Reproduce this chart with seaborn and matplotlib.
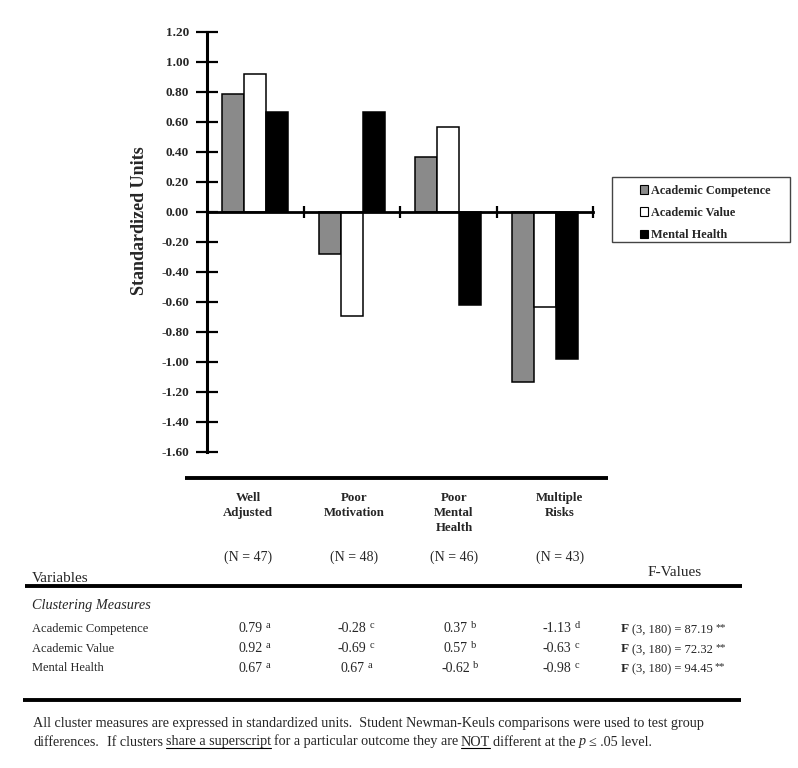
import numpy as np
import pandas as pd
import matplotlib
matplotlib.use("Agg")
import matplotlib.pyplot as plt
from matplotlib.patches import Patch, Rectangle
from matplotlib.lines import Line2D
import seaborn as sns

# ---------------- data ----------------
clusters = ["Well Adjusted", "Poor Motivation", "Poor Mental Health", "Multiple Risks"]
header_lines = [["Well", "Adjusted"], ["Poor", "Motivation"], ["Poor", "Mental", "Health"], ["Multiple", "Risks"]]
n_labels = ["(N = 47)", "(N = 48)", "(N = 46)", "(N = 43)"]
measures = ["Academic Competence", "Academic Value", "Mental Health"]
acad_competence = [0.79, -0.28, 0.37, -1.13]
acad_value = [0.92, -0.69, 0.57, -0.63]
mental_health = [0.67, 0.67, -0.62, -0.98]
sup_competence = ["a", "c", "b", "d"]
sup_value = ["a", "c", "b", "c"]
sup_mental = ["a", "a", "b", "c"]
f_values = ["87.19", "72.32", "94.45"]
y_ticks = [1.2, 1.0, 0.8, 0.6, 0.4, 0.2, 0.0, -0.2, -0.4, -0.6, -0.8, -1.0, -1.2, -1.4, -1.6]

W, H = 798, 768
SERIF = ["Liberation Serif", "DejaVu Serif"]

sns.set_theme(style="white")
plt.rcParams["font.family"] = SERIF
plt.rcParams["axes.unicode_minus"] = False

df = pd.DataFrame({
    "cluster": np.repeat(clusters, 3),
    "measure": measures * 4,
    "value": np.ravel(np.column_stack([acad_competence, acad_value, mental_health])),
})

fig = plt.figure(figsize=(W / 100, H / 100), dpi=100)
fig.patch.set_facecolor("white")

def fx(px):
    return px / W

def fy(py):
    return 1 - py / H

ax = fig.add_axes([fx(207), fy(452), (593 - 207) / W, 420 / H])
colors = ["#8a8a8a", "#ffffff", "#000000"]
sns.barplot(data=df, x="cluster", y="value", hue="measure", order=clusters,
            hue_order=measures, palette=colors, edgecolor="black", linewidth=1.1,
            width=0.68, ax=ax, legend=False, errorbar=None)

ax.set_xlim(-0.5, 3.5)
ax.set_ylim(-1.6, 1.2)
ax.set_facecolor("white")
for s in ["top", "right"]:
    ax.spines[s].set_visible(False)
ax.spines["bottom"].set_position(("data", 0))
ax.spines["left"].set_linewidth(2.2)
ax.spines["bottom"].set_linewidth(2.0)
ax.spines["left"].set_color("black")
ax.spines["bottom"].set_color("black")

ax.set_xticks([0.5, 1.5, 2.5, 3.5])
ax.set_xticklabels([])
ax.set_xlabel("")
ax.tick_params(axis="x", direction="inout", length=9, width=1.6, color="black", bottom=True)
ax.set_yticks(y_ticks)
ax.set_yticklabels([f"{v:.2f}" for v in y_ticks], fontsize=9.5, fontweight="bold")
ax.tick_params(axis="y", direction="inout", length=16, width=1.6, color="black", pad=5, left=True)
ax.set_ylabel("Standardized Units", fontsize=13, fontweight="bold")
ax.yaxis.set_label_coords(-0.152, 0.552)
ax.grid(False)

# legend
fig.add_artist(Rectangle((fx(612), fy(242)), (790 - 612) / W, (242 - 177) / H,
                         transform=fig.transFigure, facecolor="white", edgecolor="#444444",
                         linewidth=1.0))
handles = [Patch(facecolor=c, edgecolor="black", linewidth=0.8) for c in colors]
fig.legend(handles, measures, loc="upper left", bbox_to_anchor=(fx(631), fy(176)),
           frameon=False, handlelength=0.7, handleheight=0.7,
           handletextpad=0.25, labelspacing=0.85, borderpad=0.2,
           prop={"family": SERIF, "weight": "bold", "size": 8.8})

# ---------------- table ----------------
renderer = fig.canvas.get_renderer()

def hline(x0, x1, y, lw):
    fig.add_artist(Line2D([fx(x0), fx(x1)], [fy(y), fy(y)], transform=fig.transFigure,
                          color="black", linewidth=lw, solid_capstyle="butt"))

def runs(parts, x, ybase, align="left"):
    """parts: list of (text, kwargs, dy_px, gap_before_px, underline)."""
    items = []
    total = 0
    for txt, kw, dy, gap, ul in parts:
        t = fig.text(0, 0, txt, ha="left", va="baseline", **kw)
        w = t.get_window_extent(renderer).width
        items.append((t, w, dy, gap, ul))
        total += gap + w
    cur = x - total / 2 if align == "center" else x
    for t, w, dy, gap, ul in items:
        cur += gap
        t.set_position((fx(cur), fy(ybase - dy)))
        if ul:
            fig.add_artist(Line2D([fx(cur), fx(cur + w)], [fy(ybase + 2.5), fy(ybase + 2.5)],
                                  transform=fig.transFigure, color="black", linewidth=0.8))
        cur += w

hline(185, 608, 478, 2.8)

head_x = [248, 354, 454, 560]
for cx, lines, nl in zip(head_x, header_lines, n_labels):
    for i, ln in enumerate(lines):
        fig.text(fx(cx), fy(498 + 15 * i), ln, ha="center", va="center", fontsize=9.3,
                 fontweight="bold")
    fig.text(fx(cx), fy(557), nl, ha="center", va="center", fontsize=10)

fig.text(fx(32), fy(578), "Variables", ha="left", va="center", fontsize=11)
fig.text(fx(675), fy(573), "F-Values", ha="center", va="center", fontsize=11)
hline(25, 742, 586, 2.8)
fig.text(fx(32), fy(605), "Clustering Measures", ha="left", va="center", fontsize=10.3,
         style="italic")

col_x = [254, 356, 460, 561]
row_y = [629, 649, 668]
row_vals = [acad_competence, acad_value, mental_health]
row_sups = [sup_competence, sup_value, sup_mental]
base_kw = {"fontsize": 10}
sup_kw = {"fontsize": 7.5}
for ry, name, vals, sups, fv in zip(row_y, measures, row_vals, row_sups, f_values):
    fig.text(fx(32), fy(ry), name, ha="left", va="center", fontsize=9)
    for cx, v, s in zip(col_x, vals, sups):
        runs([(f"{v:.2f}", base_kw, 0, 0, False), (s, sup_kw, 4, 3, False)],
             cx, ry + 3.5, align="center")
    runs([("F", {"fontsize": 9.5, "fontweight": "bold"}, 0, 0, False),
          ("(3, 180) = " + fv, {"fontsize": 9}, -0.5, 2.5, False),
          ("**", {"fontsize": 7.5}, 2, 2.5, False)], 621, ry + 3.5)

hline(23, 741, 700, 2.8)

fn_kw = {"fontsize": 10.2}
fig.text(fx(33), fy(723 + 3.5), "All cluster measures are expressed in standardized units.  "
         "Student Newman-Keuls comparisons were used to test group", ha="left",
         va="baseline", **fn_kw)
sp = 3.0
runs([("differences.", fn_kw, 0, 0, False),
      ("If clusters", fn_kw, 0, 2 * sp + 2, False),
      ("share a superscript", fn_kw, 0, sp, True),
      ("for a particular outcome they are", fn_kw, 0, sp, False),
      ("NOT", fn_kw, 0, sp, True),
      ("different at the", fn_kw, 0, sp, False),
      ("p", {"fontsize": 10.2, "style": "italic"}, 0, sp, False),
      ("\u2264 .05 level.", fn_kw, 0, sp, False)], 33, 742 + 3.5)

fig.savefig("out.png", dpi=100, facecolor="white")
